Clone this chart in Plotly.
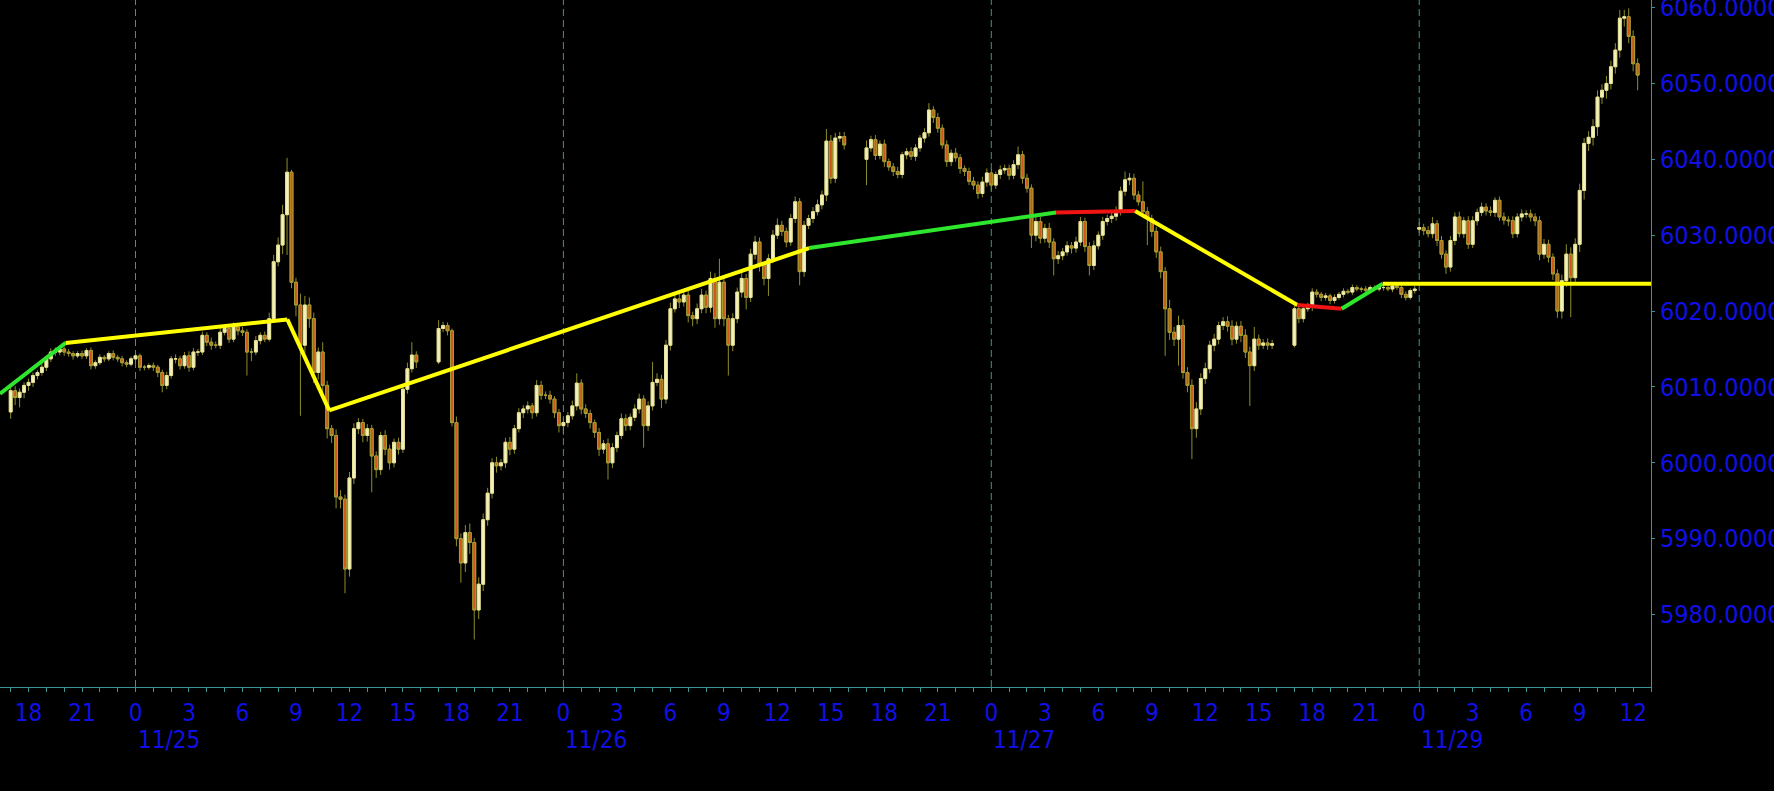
import pandas as pd
import plotly.graph_objects as go

# ---------------- 15-minute OHLC data ----------------
# Session 1: 2024-11-24 17:00 -> 2024-11-25 15:45
s1_start = "2024-11-24 17:00"
s1_open = 6006.7
s1_close = [
    6009.5, 6008.6, 6009.3, 6010.2, 6010.6, 6011.5, 6011.9, 6012.6,
    6013.7, 6014.6, 6014.6, 6015.0, 6014.6, 6014.4, 6014.1, 6014.4,
    6014.1, 6014.8, 6012.8, 6013.2, 6013.9, 6013.7, 6014.4, 6013.9,
    6013.7, 6013.2, 6013.0, 6013.7, 6014.1, 6012.6, 6012.6, 6012.8,
    6012.6, 6011.9, 6010.2, 6011.5, 6013.7, 6013.7, 6012.8, 6014.1,
    6012.6, 6014.6, 6014.6, 6016.8, 6015.9, 6015.5, 6015.5, 6017.2,
    6017.7, 6016.3, 6017.9, 6017.4, 6017.2, 6014.6, 6014.6, 6016.1,
    6016.8, 6016.3, 6019.0, 6026.5, 6028.7, 6032.7, 6038.3, 6023.8,
    6020.8, 6015.5, 6020.8, 6019.0, 6011.9, 6014.6, 6010.2, 6004.5,
    6003.6, 5995.5, 5995.2, 5986.0, 5998.0, 6004.5, 6005.3, 6003.6,
    6004.5, 6000.9, 5999.1, 6003.6, 6001.8, 6000.0, 6002.7, 6001.8,
    6009.7, 6012.4, 6014.2, 6013.3,
]
s1_upper_wick = [
    0.7, 0.6, 0.5, 0.4, 0.5, 0.4, 0.3, 0.5,
    0.4, 0.5, 0.6, 0.4, 0.3, 0.4, 0.3, 0.3,
    0.4, 0.3, 0.4, 0.3, 0.4, 0.3, 0.3, 0.4,
    0.3, 0.4, 0.3, 0.3, 0.4, 0.3, 0.3, 0.3,
    0.4, 0.3, 0.4, 0.5, 0.4, 0.6, 0.4, 0.5,
    0.6, 0.5, 0.4, 0.5, 0.4, 0.6, 0.5, 0.6,
    0.5, 0.4, 0.6, 0.4, 0.5, 0.4, 0.5, 0.6,
    0.4, 0.5, 0.8, 0.9, 1.0, 1.3, 1.9, 0.3,
    0.6, 1.5, 1.2, 1.0, 0.8, 0.6, 1.3, 0.6,
    0.5, 0.8, 0.9, 0.6, 0.8, 0.7, 0.6, 0.5,
    0.6, 0.5, 0.6, 0.5, 0.7, 0.6, 0.5, 0.6,
    0.7, 0.8, 1.7, 0.5,
]
s1_lower_wick = [
    0.9, 1.0, 1.3, 0.8, 0.7, 0.6, 0.5, 0.4,
    0.5, 0.4, 0.5, 0.4, 0.5, 0.4, 0.5, 0.3,
    0.4, 0.4, 0.5, 0.4, 0.3, 0.4, 0.3, 0.4,
    0.4, 0.5, 0.4, 0.3, 0.4, 0.5, 0.4, 0.3,
    0.5, 0.6, 0.9, 0.5, 0.4, 0.6, 0.5, 0.4,
    0.6, 0.4, 0.5, 0.4, 0.5, 0.6, 0.4, 0.5,
    0.4, 0.5, 0.4, 0.6, 0.5, 3.1, 1.2, 0.4,
    0.5, 0.4, 0.3, 0.5, 0.6, 1.2, 5.3, 0.8,
    1.5, 9.3, 1.0, 1.2, 1.4, 0.9, 1.1, 1.3,
    1.0, 1.5, 1.2, 3.2, 1.0, 0.8, 0.7, 0.9,
    0.8, 4.8, 1.1, 0.7, 0.8, 0.9, 0.6, 0.7,
    0.5, 0.6, 0.5, 0.8,
]

# Session 2: 2024-11-25 17:00 -> 2024-11-26 15:45
s2_start = "2024-11-25 17:00"
s2_open = 6013.3
s2_close = [
    6017.7, 6018.1, 6017.4, 6005.3, 5990.0, 5986.8, 5990.8, 5989.5,
    5980.6, 5984.0, 5992.5, 5996.0, 6000.0, 5999.6, 6000.0, 6002.7,
    6001.8, 6004.5, 6006.6, 6007.1, 6007.5, 6006.6, 6010.2, 6008.9,
    6008.9, 6008.4, 6006.6, 6004.9, 6005.3, 6006.2, 6007.5, 6010.5,
    6007.1, 6006.5, 6005.3, 6004.0, 6001.8, 6002.5, 6000.0, 6002.0,
    6003.6, 6005.8, 6004.9, 6006.0, 6007.1, 6008.4, 6004.9, 6007.5,
    6010.6, 6011.0, 6008.4, 6015.5, 6020.3, 6021.6, 6021.2, 6022.1,
    6019.4, 6019.0, 6020.3, 6022.1, 6020.5, 6024.3, 6019.0, 6023.8,
    6019.0, 6015.5, 6019.0, 6022.5, 6024.3, 6021.8, 6027.5, 6029.1,
    6026.0, 6024.3, 6026.9, 6030.0, 6031.3, 6030.5, 6029.1, 6032.2,
    6034.4, 6025.2, 6031.3, 6032.2, 6033.1, 6034.0, 6035.3, 6042.4,
    6037.5, 6042.8, 6043.0, 6041.9,
]
s2_upper_wick = [
    1.1, 0.5, 0.4, 0.3, 0.8, 0.7, 1.0, 1.2,
    0.6, 0.9, 0.8, 0.7, 0.6, 0.8, 0.5, 0.6,
    0.7, 0.5, 0.6, 0.5, 0.6, 0.4, 0.7, 0.6,
    0.5, 0.6, 0.4, 0.5, 0.6, 0.5, 0.7, 1.3,
    0.5, 0.6, 0.5, 0.4, 0.6, 0.5, 0.7, 0.6,
    0.5, 0.7, 0.6, 0.5, 0.6, 0.7, 0.5, 0.6,
    2.7, 0.8, 0.6, 0.7, 0.8, 0.6, 0.7, 0.8,
    0.6, 0.5, 0.7, 0.8, 0.6, 0.9, 0.7, 3.1,
    0.6, 0.5, 0.7, 0.6, 0.8, 0.6, 0.7, 0.8,
    0.6, 0.5, 0.6, 0.7, 0.9, 0.6, 0.5, 0.6,
    0.7, 0.5, 0.6, 0.5, 0.6, 0.7, 0.6, 1.6,
    0.8, 0.7, 0.6, 0.6,
]
s2_lower_wick = [
    0.3, 0.5, 0.6, 0.5, 1.0, 2.6, 1.2, 1.5,
    3.9, 1.2, 0.9, 0.8, 0.7, 0.9, 0.6, 0.7,
    0.8, 0.6, 0.5, 0.7, 0.6, 0.8, 0.5, 0.6,
    0.5, 0.6, 0.7, 0.9, 1.2, 0.6, 0.5, 0.6,
    0.7, 0.6, 0.8, 0.7, 0.9, 0.6, 2.2, 0.7,
    0.6, 0.5, 0.7, 0.6, 0.5, 0.6, 2.9, 0.7,
    0.6, 0.5, 1.2, 0.6, 0.7, 0.5, 0.8, 0.6,
    0.9, 1.0, 0.7, 0.6, 0.8, 0.7, 1.2, 0.8,
    1.0, 4.0, 0.8, 0.6, 0.7, 1.6, 0.6, 0.7,
    0.8, 0.9, 2.3, 0.6, 0.5, 0.6, 0.7, 0.5,
    0.6, 1.8, 0.7, 0.5, 0.6, 0.5, 0.6, 0.8,
    0.7, 0.6, 0.5, 0.6,
]

# Session 3: 2024-11-26 17:00 -> 2024-11-27 15:45
s3_start = "2024-11-26 17:00"
s3_open = 6040.0
s3_close = [
    6041.5, 6042.6, 6040.5, 6042.0, 6039.7, 6039.0, 6038.4, 6038.0,
    6040.6, 6041.0, 6040.4, 6041.5, 6042.8, 6043.5, 6046.5, 6045.5,
    6044.1, 6041.9, 6039.7, 6040.8, 6040.2, 6038.8, 6038.4, 6037.1,
    6036.6, 6035.5, 6037.0, 6038.2, 6036.6, 6038.0, 6038.6, 6038.8,
    6037.9, 6039.3, 6040.6, 6037.5, 6036.2, 6030.0, 6031.8, 6029.6,
    6030.9, 6029.1, 6026.9, 6027.3, 6027.8, 6028.6, 6028.3, 6029.1,
    6031.8, 6028.5, 6026.0, 6028.6, 6030.0, 6031.8, 6032.2, 6032.5,
    6033.1, 6035.8, 6037.3, 6037.5, 6035.3, 6034.4, 6033.1, 6032.2,
    6030.5, 6027.8, 6025.2, 6020.3, 6017.2, 6016.3, 6018.1, 6011.9,
    6010.2, 6004.5, 6007.1, 6011.1, 6012.4, 6015.5, 6016.3, 6018.1,
    6018.6, 6018.0, 6016.3, 6018.0, 6016.8, 6014.6, 6012.8, 6016.3,
    6015.5, 6015.8, 6015.5, 6015.7,
]
s3_upper_wick = [
    1.0, 0.5, 0.6, 0.5, 0.6, 0.4, 0.5, 0.6,
    0.4, 0.5, 0.6, 0.5, 0.4, 0.6, 0.9, 0.5,
    0.6, 0.5, 0.6, 0.5, 0.7, 0.5, 0.4, 0.5,
    0.6, 0.5, 0.7, 0.6, 0.5, 0.4, 0.6, 0.5,
    0.5, 0.6, 1.1, 0.5, 0.6, 0.5, 0.7, 0.6,
    0.6, 0.7, 0.5, 0.6, 0.5, 0.6, 0.5, 0.7,
    0.6, 0.5, 0.6, 0.7, 0.5, 0.6, 0.5, 0.6,
    0.7, 0.6, 1.1, 0.7, 0.6, 0.5, 2.7, 0.6,
    0.5, 0.6, 0.7, 0.6, 1.2, 0.7, 1.3, 0.8,
    0.7, 0.8, 0.9, 0.7, 0.8, 0.6, 0.7, 0.5,
    0.6, 0.7, 0.8, 0.6, 0.7, 0.8, 0.7, 1.6,
    0.6, 0.5, 0.6, 0.5,
]
s3_lower_wick = [
    3.4, 0.5, 0.6, 0.5, 0.7, 0.5, 0.6, 0.5,
    0.5, 0.6, 0.5, 0.6, 0.5, 0.6, 0.5, 0.7,
    0.6, 0.5, 0.7, 0.6, 0.5, 0.7, 0.6, 0.5,
    0.6, 0.7, 0.5, 0.6, 0.8, 0.5, 0.6, 0.5,
    0.6, 0.5, 0.6, 0.7, 0.6, 1.7, 0.8, 0.7,
    0.6, 0.8, 2.2, 0.7, 0.6, 0.5, 0.7, 0.6,
    0.5, 0.7, 1.3, 0.6, 0.5, 0.6, 0.5, 0.6,
    0.6, 0.5, 0.6, 0.7, 0.6, 0.5, 0.6, 3.5,
    0.7, 0.8, 0.9, 6.2, 1.0, 0.9, 3.5, 0.8,
    0.9, 4.0, 1.2, 0.8, 0.7, 0.6, 0.8, 0.7,
    0.6, 0.7, 0.8, 0.6, 0.9, 0.8, 5.3, 0.7,
    0.6, 0.5, 0.6, 0.5,
]

# Session 4: 2024-11-27 17:00 -> 23:45
s4_start = "2024-11-27 17:00"
s4_open = 6015.5
s4_close = [
    6020.3, 6019.0, 6020.3, 6020.5, 6022.5, 6022.2, 6021.8, 6022.0,
    6021.4, 6021.8, 6022.2, 6022.6, 6022.5, 6023.1, 6022.9, 6022.9,
    6022.7, 6023.1, 6022.9, 6023.1, 6023.1, 6022.9, 6023.3, 6023.1,
    6022.2, 6021.8, 6022.7, 6022.9,
]
s4_upper_wick = [
    0.4, 0.5, 0.4, 0.6, 0.5, 0.4, 0.3, 0.4,
    0.3, 0.4, 0.3, 0.4, 0.3, 0.4, 0.3, 0.3,
    0.4, 0.3, 0.3, 0.4, 0.3, 0.3, 0.4, 0.3,
    0.3, 0.4, 0.3, 0.4,
]
s4_lower_wick = [
    0.3, 0.6, 0.5, 0.4, 0.5, 0.4, 0.5, 0.4,
    0.5, 0.4, 0.3, 0.4, 0.3, 0.4, 0.3, 0.4,
    0.3, 0.4, 0.3, 0.3, 0.4, 0.3, 0.4, 0.3,
    0.5, 0.4, 0.3, 0.4,
]

# Session 5: 2024-11-29 00:00 -> 12:15
s5_start = "2024-11-29 00:00"
s5_open = 6030.8
s5_close = [
    6031.0, 6030.6, 6030.2, 6031.5, 6029.3, 6027.5, 6025.8, 6029.3,
    6032.4, 6030.2, 6031.9, 6028.8, 6031.9, 6033.0, 6033.7, 6033.2,
    6033.0, 6034.6, 6032.4, 6032.0, 6031.9, 6030.2, 6032.4, 6032.8,
    6032.8, 6032.4, 6031.9, 6027.5, 6028.8, 6027.1, 6024.9, 6020.0,
    6024.0, 6027.5, 6024.4, 6028.8, 6035.9, 6042.1, 6042.9, 6044.3,
    6048.2, 6049.1, 6050.0, 6052.2, 6054.4, 6058.6, 6058.8, 6056.2,
    6052.6, 6051.1,
]
s5_upper_wick = [
    0.7, 0.5, 0.6, 0.9, 0.5, 0.6, 0.5, 0.6,
    0.6, 0.7, 0.5, 0.6, 0.6, 0.5, 0.6, 0.5,
    0.6, 0.4, 0.5, 0.6, 0.5, 0.6, 0.5, 0.6,
    0.5, 0.6, 0.5, 0.6, 0.7, 0.6, 0.5, 0.6,
    0.8, 1.3, 0.9, 0.8, 0.9, 0.7, 0.8, 1.0,
    0.9, 0.8, 1.0, 0.8, 0.9, 1.1, 0.9, 1.1,
    0.8, 0.7,
]
s5_lower_wick = [
    0.5, 0.6, 0.5, 0.6, 0.7, 0.6, 0.9, 0.6,
    0.6, 0.5, 0.6, 0.6, 0.5, 0.6, 0.5, 0.6,
    0.5, 0.6, 0.5, 0.6, 0.7, 0.6, 0.5, 0.6,
    0.5, 0.6, 0.7, 0.8, 0.6, 0.7, 0.8, 0.9,
    1.0, 0.8, 5.2, 0.9, 1.0, 1.2, 1.0, 1.1,
    1.2, 0.9, 1.1, 0.8, 0.9, 1.0, 1.1, 0.9,
    1.0, 2.0,
]

# ---------------- overlay zig-zag line ----------------
zz_time = [
    "2024-11-24 16:24", "2024-11-24 20:05", "2024-11-25 08:31",
    "2024-11-25 10:52", "2024-11-26 13:47", "2024-11-27 03:38",
    "2024-11-27 08:04", "2024-11-27 17:10", "2024-11-27 19:39",
    "2024-11-27 21:57", "2024-11-29 13:00",
]
zz_value = [6009.1, 6015.8, 6018.9, 6006.9, 6028.3, 6033.0,
            6033.2, 6020.8, 6020.3, 6023.6, 6023.6]
zz_segment_color = ["#2ee62e", "#ffff00", "#ffff00", "#ffff00", "#2ee62e",
                    "#f01414", "#ffff00", "#f01414", "#2ee62e", "#ffff00"]

# ---------------- axis labels ----------------
hour_labels = ["18", "21",
               "0", "3", "6", "9", "12", "15", "18", "21",
               "0", "3", "6", "9", "12", "15", "18", "21",
               "0", "3", "6", "9", "12", "15", "18", "21",
               "0", "3", "6", "9", "12"]
day_dates = ["2024-11-25", "2024-11-26", "2024-11-27", "2024-11-29"]
day_labels = ["11/25", "11/26", "11/27", "11/29"]
price_ticks = [5980, 5990, 6000, 6010, 6020, 6030, 6040, 6050, 6060]

# ---------------- build OHLC ----------------
sessions = [
    (s1_start, s1_open, s1_close, s1_upper_wick, s1_lower_wick),
    (s2_start, s2_open, s2_close, s2_upper_wick, s2_lower_wick),
    (s3_start, s3_open, s3_close, s3_upper_wick, s3_lower_wick),
    (s4_start, s4_open, s4_close, s4_upper_wick, s4_lower_wick),
    (s5_start, s5_open, s5_close, s5_upper_wick, s5_lower_wick),
]
T, O, H, L, C = [], [], [], [], []
for start, first_open, closes, uw, lw in sessions:
    assert len(closes) == len(uw) == len(lw), (start, len(closes), len(uw), len(lw))
    times = pd.date_range(start, periods=len(closes), freq="15min")
    opens = [first_open] + closes[:-1]
    for t, o, c, u, d in zip(times, opens, closes, uw, lw):
        T.append(t)
        O.append(o)
        C.append(c)
        H.append(round(max(o, c) + u, 2))
        L.append(round(min(o, c) - d, 2))
body_top = [max(o, c) for o, c in zip(O, C)]
body_bot = [min(o, c) for o, c in zip(O, C)]

TEAL = "#3a9494"
BLUE = "#1010e6"
FONT = "DejaVu Sans Condensed, DejaVu Sans, sans-serif"
WICK = "#8e8c2a"

fig = go.Figure()

# wicks (olive)
fig.add_trace(go.Candlestick(
    x=T, open=O, high=H, low=L, close=C,
    increasing=dict(line=dict(color=WICK, width=1), fillcolor=WICK),
    decreasing=dict(line=dict(color=WICK, width=1), fillcolor=WICK),
    whiskerwidth=0, hoverinfo="skip", showlegend=False,
))
# bodies
fig.add_trace(go.Candlestick(
    x=T, open=O, high=body_top, low=body_bot, close=C,
    increasing=dict(line=dict(color="#e6e29c", width=1), fillcolor="#f4f2bc"),
    decreasing=dict(line=dict(color="#a49e32", width=1), fillcolor="#d0561a"),
    whiskerwidth=0, hoverinfo="skip", showlegend=False,
))

for i, col in enumerate(zz_segment_color):
    fig.add_trace(go.Scatter(
        x=zz_time[i:i + 2], y=zz_value[i:i + 2], mode="lines",
        line=dict(color=col, width=4), hoverinfo="skip", showlegend=False,
    ))

# midnight dashed grid lines
for d in day_dates:
    fig.add_shape(type="line", x0=d, x1=d, y0=0, y1=1, xref="x", yref="paper",
                  line=dict(color=TEAL, width=1, dash="7px,4px"), layer="below")

# date labels under the hour labels
for d, lab in zip(day_dates, day_labels):
    fig.add_annotation(x=d, y=-0.077, xref="x", yref="paper", text=lab,
                       showarrow=False, xanchor="left", yanchor="middle",
                       font=dict(family=FONT, size=24, color=BLUE))

tick_times = [t for t in pd.date_range("2024-11-24 18:00", "2024-11-29 12:00", freq="3h")
              if t.date() != pd.Timestamp("2024-11-28").date()]

fig.update_layout(
    width=1774, height=791,
    margin=dict(l=0, r=123, t=0, b=104, autoexpand=False),
    paper_bgcolor="black", plot_bgcolor="black",
    showlegend=False,
    boxgap=0.2, boxgroupgap=0.2, boxmode="overlay",
    xaxis=dict(
        type="date", automargin=False,
        range=["2024-11-24 16:24", "2024-11-29 13:00"],
        rangebreaks=[dict(bounds=["2024-11-28 00:00", "2024-11-29 00:00"])],
        rangeslider=dict(visible=False),
        tickmode="array", tickvals=tick_times, ticktext=hour_labels,
        ticks="outside", ticklen=4, tickcolor=TEAL, tickwidth=1,
        minor=dict(tickmode="linear", tick0="2024-11-24 18:00", dtick=3600000,
                   ticks="outside", ticklen=4, tickcolor=TEAL, showgrid=False),
        showgrid=False, zeroline=False,
        showline=True, linecolor=TEAL, linewidth=1,
        ticklabeloverflow="allow",
        tickfont=dict(family=FONT, size=24, color=BLUE),
    ),
    yaxis=dict(
        side="right", automargin=False,
        range=[5970.45, 6061.0],
        tickmode="array", tickvals=price_ticks,
        ticktext=[f"{v:.4f}" for v in price_ticks],
        ticks="outside", ticklen=3, tickcolor=TEAL,
        showgrid=False, zeroline=False,
        showline=True, linecolor=TEAL, linewidth=1,
        ticklabeloverflow="allow",
        tickfont=dict(family=FONT, size=25, color=BLUE),
    ),
)

fig.write_html("out.html",
               config={"displayModeBar": False},
               post_script="document.body.style.margin='0';document.body.style.overflow='hidden';")
